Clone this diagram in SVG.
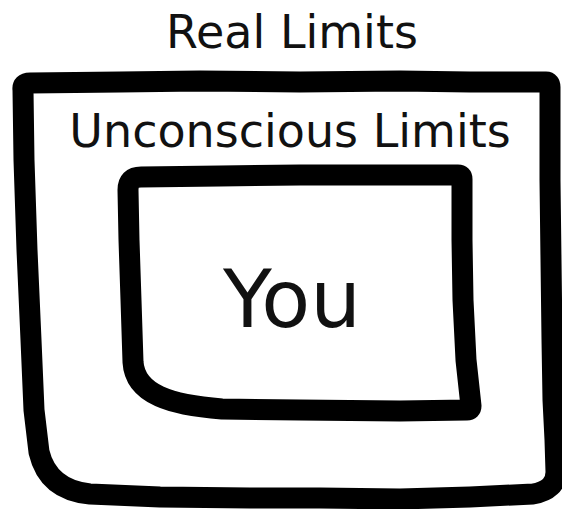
<svg xmlns="http://www.w3.org/2000/svg" width="562" height="509" viewBox="0 0 562 509">
  <style>
    .box { fill: none; stroke: #000; stroke-width: 21; stroke-linejoin: round; stroke-linecap: round; }
    .label { font-family: "DejaVu Sans", "Liberation Sans", sans-serif; fill: #111; text-anchor: middle; }
  </style>
  <rect x="0" y="0" width="562" height="509" fill="#fff"/>
  <g id="real-limits">
    <path class="box" d="M 23,90 Q 22,83 30,83 L 120,82 L 200,81 L 300,82 L 400,81 L 470,82 L 546,82 Q 550,82 550,87 L 550,180 L 551,260 L 552,340 L 553,400 L 555,440 L 556,472 Q 556,490 533,494 L 470,497 L 400,499 L 320,498 L 250,498 L 160,497 L 90,494 Q 48,490 39,452 L 34,410 L 31,340 L 27,250 L 24,160 Z"/>
    <text class="label" x="292" y="48" font-size="46">Real Limits</text>
  </g>
  <g id="unconscious-limits">
    <text class="label" x="290" y="147" font-size="46">Unconscious Limits</text>
  </g>
  <g id="you">
    <path class="box" d="M 128,190 Q 128,177 141,177 L 220,176 L 300,175 L 380,175 L 458,175 Q 462,175 462,179 L 462,240 L 463,300 L 466,360 L 471,406 Q 471,410 467,410 L 400,411 L 300,410 L 222,409 C 172,405 135,395 133,362 L 131,300 L 129,240 Z"/>
    <text class="label" x="292" y="327" font-size="80">You</text>
  </g>
  <g id="connectors"/>
</svg>
